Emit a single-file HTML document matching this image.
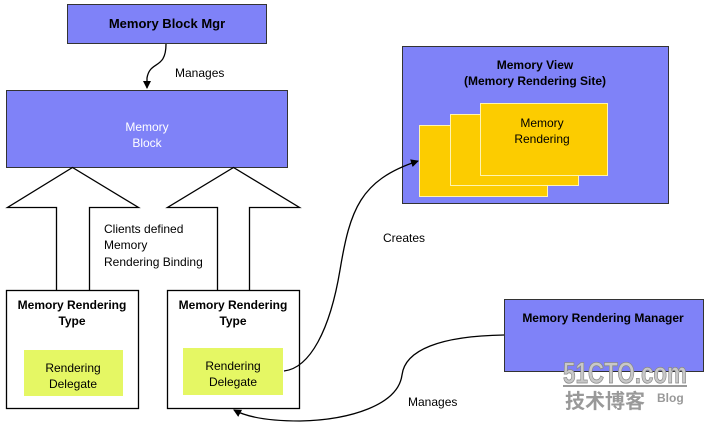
<!DOCTYPE html>
<html><head><style>
body{margin:0;background:#fff;}
svg text{font-family:"Liberation Sans","Noto Sans CJK SC",sans-serif;}
</style></head><body>
<svg width="707" height="430" viewBox="0 0 707 430" xmlns="http://www.w3.org/2000/svg">
<defs><marker id="ah" markerWidth="8" markerHeight="8" refX="7" refY="4" orient="auto" markerUnits="userSpaceOnUse"><path d="M0,0 L8,4 L0,8 z" fill="#000"/></marker></defs>
<rect x="67.5" y="4.5" width="199" height="39" fill="#7f82f8" stroke="#333"/>
<text x="167" y="28" font-size="13" font-weight="bold" text-anchor="middle" fill="#000">Memory Block Mgr</text>
<path d="M166,44 C166,70 150,60 147,78 L147,88" fill="none" stroke="#000" stroke-width="1.3" marker-end="url(#ah)"/>
<text x="175" y="77" font-size="12">Manages</text>
<rect x="6.5" y="90.5" width="281" height="77" fill="#7f82f8" stroke="#333"/>
<text x="147" y="131" font-size="12" fill="#fff" text-anchor="middle">Memory</text>
<text x="147" y="147" font-size="12" fill="#fff" text-anchor="middle">Block</text>
<path d="M56.5,290.5 L56.5,207.5 L7.5,207.5 L72.5,167.5 L138.5,207.5 L89.5,207.5 L89.5,290.5" fill="#fff" stroke="#000" stroke-width="1.3"/>
<path d="M217.5,290.5 L217.5,207.5 L167.5,207.5 L233.5,167.5 L299.5,207.5 L249.5,207.5 L249.5,290.5" fill="#fff" stroke="#000" stroke-width="1.3"/>
<rect x="6.5" y="290.5" width="132" height="118" fill="#fff" stroke="#000" stroke-width="1.3"/>
<rect x="167.5" y="290.5" width="132" height="118" fill="#fff" stroke="#000" stroke-width="1.3"/>
<text x="72" y="309" font-size="12" font-weight="bold" text-anchor="middle">Memory Rendering</text>
<text x="72" y="325" font-size="12" font-weight="bold" text-anchor="middle">Type</text>
<text x="233" y="309" font-size="12" font-weight="bold" text-anchor="middle">Memory Rendering</text>
<text x="233" y="325" font-size="12" font-weight="bold" text-anchor="middle">Type</text>
<rect x="24" y="350" width="99" height="46" fill="#e5f764"/>
<rect x="183" y="348" width="100" height="47" fill="#e5f764"/>
<text x="73" y="372" font-size="12" text-anchor="middle">Rendering</text>
<text x="73" y="388" font-size="12" text-anchor="middle">Delegate</text>
<text x="233" y="370" font-size="12" text-anchor="middle">Rendering</text>
<text x="233" y="386" font-size="12" text-anchor="middle">Delegate</text>
<text x="104" y="233" font-size="12">Clients defined</text>
<text x="104" y="249" font-size="12">Memory</text>
<text x="104" y="266" font-size="12">Rendering Binding</text>
<rect x="402.5" y="46.5" width="266" height="157" fill="#7f82f8" stroke="#333"/>
<text x="535" y="69" font-size="12" font-weight="bold" text-anchor="middle">Memory View</text>
<text x="535" y="85" font-size="12" font-weight="bold" text-anchor="middle">(Memory Rendering Site)</text>
<rect x="419.5" y="125.5" width="128" height="71" fill="#fccc00" stroke="#fff4b0"/>
<rect x="450.5" y="114.5" width="128" height="71" fill="#fccc00" stroke="#fff4b0"/>
<rect x="480.5" y="103.5" width="127" height="72" fill="#fccc00" stroke="#fff4b0"/>
<text x="542" y="127" font-size="12" text-anchor="middle">Memory</text>
<text x="542" y="143" font-size="12" text-anchor="middle">Rendering</text>
<path d="M284,371 C310,368 330,330 340,270 C350,210 360,180 418,161" fill="none" stroke="#000" stroke-width="1.3" marker-end="url(#ah)"/>
<text x="383" y="242" font-size="12">Creates</text>
<rect x="504.5" y="299.5" width="199" height="72" fill="#7f82f8" stroke="#333"/>
<text x="603" y="322" font-size="12" font-weight="bold" text-anchor="middle">Memory Rendering Manager</text>
<path d="M504,335 C440,336 405,350 402,375 C398,405 350,420 300,421 C265,421 245,416 234,410" fill="none" stroke="#000" stroke-width="1.3" marker-end="url(#ah)"/>
<text x="408" y="406" font-size="12">Manages</text>
<text x="625" y="383" font-size="30" font-weight="bold" fill="#c8c8c8" stroke="#888" stroke-width="0.8" text-anchor="middle" textLength="124" lengthAdjust="spacingAndGlyphs">51CTO.com</text>
<rect x="563" y="385" width="124" height="2" fill="#999"/>
<text x="565" y="408" font-size="20" font-weight="bold" fill="#999">技术博客</text>
<text x="657" y="402" font-size="12" font-weight="bold" fill="#999">Blog</text>
</svg>
</body></html>
